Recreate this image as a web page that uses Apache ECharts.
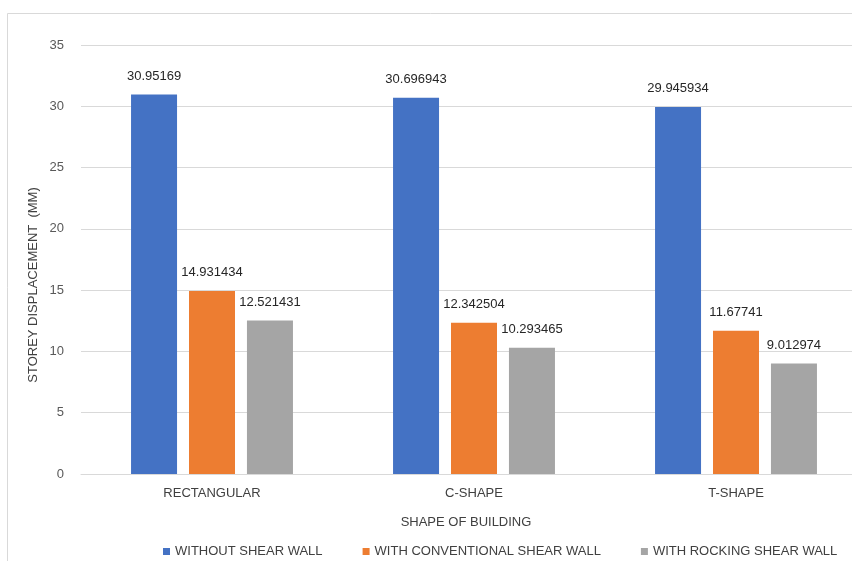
<!DOCTYPE html>
<html>
<head>
<meta charset="utf-8">
<script src="https://cdn.jsdelivr.net/npm/echarts@6/dist/echarts.min.js"></script>
<style>
  html, body { margin: 0; padding: 0; background: #fff; }
  #chart { width: 852px; height: 561px; }
</style>
</head>
<body>
<div id="chart"></div>
<script>
// Building shapes on the category axis
const shapes = ['RECTANGULAR', 'C-SHAPE', 'T-SHAPE'];

// Storey displacement (mm) for each wall configuration
const withoutShearWall = [30.95169, 30.696943, 29.945934];
const conventionalShearWall = [14.931434, 12.342504, 11.67741];
const rockingShearWall = [12.521431, 10.293465, 9.012974];

const seriesNames = ['WITHOUT SHEAR WALL', 'WITH CONVENTIONAL SHEAR WALL', 'WITH ROCKING SHEAR WALL'];
const seriesColors = ['#4472C4', '#ED7D31', '#A5A5A5'];

const FONT = '"Liberation Sans", Arial, sans-serif';

function barSeries(name, data, color) {
  return {
    name: name,
    type: 'bar',
    data: data,
    barWidth: 46,
    barGap: '26%',
    itemStyle: { color: color },
    label: {
      show: true,
      position: 'top',
      distance: 12,
      color: '#262626',
      fontFamily: FONT,
      fontSize: 13,
      formatter: p => String(p.value)
    }
  };
}

const chart = echarts.init(document.getElementById('chart'), null, { renderer: 'canvas' });
chart.setOption({
  animation: false,
  backgroundColor: '#ffffff',
  textStyle: { fontFamily: FONT },
  graphic: [
    {
      // chart-area frame (runs off the right and bottom edges)
      type: 'rect',
      shape: { x: 7.5, y: 13.5, width: 900, height: 600 },
      style: { fill: 'none', stroke: '#d9d9d9', lineWidth: 1 },
      silent: true
    },
    {
      // value-axis title
      type: 'text',
      x: 33,
      y: 285,
      rotation: Math.PI / 2,
      style: {
        text: 'STOREY DISPLACEMENT  (MM)',
        fill: '#404040',
        font: '13px ' + FONT,
        align: 'center',
        verticalAlign: 'middle'
      },
      silent: true
    }
  ],
  // plot area is wider than the canvas; the last category runs past the right edge
  grid: { left: 81, top: 45, bottom: 87, width: 786, containLabel: false, outerBoundsMode: 'none' },
  legend: {
    data: seriesNames,
    left: 158,
    top: 540,
    icon: 'rect',
    itemWidth: 7,
    itemHeight: 7,
    itemGap: 40,
    textStyle: { color: '#404040', fontSize: 13, fontFamily: FONT }
  },
  xAxis: {
    type: 'category',
    data: shapes,
    name: 'SHAPE OF BUILDING',
    nameLocation: 'middle',
    nameGap: 42,
    nameTextStyle: { color: '#404040', fontSize: 13, fontFamily: FONT, padding: [0, 16, 0, 0] },
    axisLine: { lineStyle: { color: '#d9d9d9' } },
    axisTick: { show: false },
    axisLabel: { color: '#404040', fontSize: 13, margin: 13, fontFamily: FONT }
  },
  yAxis: {
    type: 'value',
    min: 0,
    max: 35,
    interval: 5,
    axisLine: { show: false },
    axisTick: { show: false },
    axisLabel: { color: '#595959', fontSize: 13, margin: 17, fontFamily: FONT },
    splitLine: { lineStyle: { color: '#d9d9d9' } }
  },
  series: [
    barSeries(seriesNames[0], withoutShearWall, seriesColors[0]),
    barSeries(seriesNames[1], conventionalShearWall, seriesColors[1]),
    barSeries(seriesNames[2], rockingShearWall, seriesColors[2])
  ]
});
</script>
</body>
</html>
